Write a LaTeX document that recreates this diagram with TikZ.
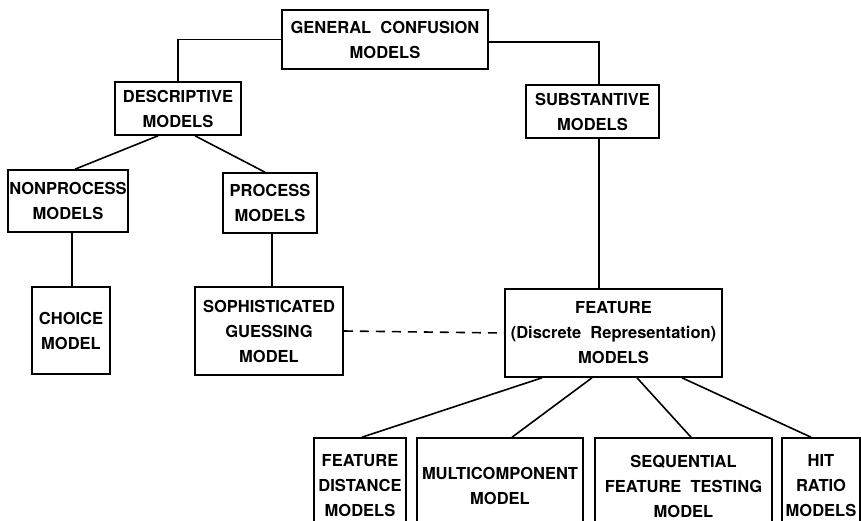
\documentclass[tikz,border=0pt]{standalone}
\usepackage{fontspec}
\setsansfont{TeX Gyre Heros}
\begin{document}
\begin{tikzpicture}[x=1pt,y=-1pt,
    modelbox/.style={draw, line width=1.6pt, inner sep=0pt, align=center,
                     font=\sffamily\bfseries\fontsize{16.5}{25}\selectfont},
    link/.style={line width=1.6pt}]
     % Page frame: pixel coordinates, y running downwards
     \useasboundingbox (0,0) rectangle (861,520);
     \clip (0,0) rectangle (861,520);

     % Top of the tree
     \node [modelbox, minimum width=206, minimum height=59] (general) at (385,39.5)
           {GENERAL\ \ CONFUSION\\MODELS};

     % Second level
     \node [modelbox, minimum width=126, minimum height=53] (descr) at (178,108.5)
           {DESCRIPTIVE\\MODELS};
     \node [modelbox, minimum width=133, minimum height=53] (subst) at (592.5,111.5)
           {SUBSTANTIVE\\MODELS};

     % Descriptive branch
     \node [modelbox, minimum width=120, minimum height=62] (nonproc) at (68,201)
           {NONPROCESS\\MODELS};
     \node [modelbox, minimum width=94, minimum height=60] (proc) at (270,203)
           {PROCESS\\MODELS};
     \node [modelbox, minimum width=78, minimum height=87] (choice) at (71,330.5)
           {CHOICE\\MODEL};
     \node [modelbox, minimum width=148, minimum height=88] (soph) at (269,331)
           {SOPHISTICATED\\GUESSING\\MODEL};

     % Substantive branch
     \node [modelbox, minimum width=217, minimum height=88] (feature) at (613.5,333)
           {FEATURE\\(Discrete\ \ Representation)\\MODELS};

     % Bottom row: the boxes run past the lower edge
     \node [modelbox, minimum width=92, minimum height=96] (fdist) at (360,486)
           {FEATURE\\DISTANCE\\MODELS};
     \node [modelbox, minimum width=166, minimum height=96] (multi) at (500,486)
           {MULTICOMPONENT\\MODEL};
     \node [modelbox, minimum width=177, minimum height=96] (seqtest) at (683.5,486)
           {SEQUENTIAL\\FEATURE\ \ TESTING\\MODEL};
     \node [modelbox, minimum width=78, minimum height=96] (hitratio) at (821,486)
           {HIT\\RATIO\\MODELS};

     % Connectors
     \coordinate (sjoin) at (599,42);
     \draw [link] (general.west) -| (descr.north);
     \draw [link] (general.east |- sjoin) -- (sjoin) -- (sjoin |- subst.north);
     \draw [link] (sjoin |- subst.south) -- (sjoin |- feature.north);

     \draw [link] ([xshift=-20pt]descr.south) -- ([xshift=7pt]nonproc.north);
     \draw [link] ([xshift=17pt]descr.south) -- ([xshift=-5pt]proc.north);
     \draw [link] ([xshift=4pt]nonproc.south) -- ([xshift=1pt]choice.north);
     \draw [link] ([xshift=2pt]proc.south) -- ([xshift=3pt]soph.north);

     % The dashed link between the two families
     \draw [link, dashed, dash pattern=on 9pt off 7pt] (soph.east) -- (feature.west);

     % Fan out below the feature models
     \draw [link] ([xshift=-71.5pt]feature.south) -- ([xshift=2pt]fdist.north);
     \draw [link] ([xshift=-21.5pt]feature.south) -- ([xshift=12pt]multi.north);
     \draw [link] ([xshift=23.5pt]feature.south) -- ([xshift=7.5pt]seqtest.north);
     \draw [link] ([xshift=68.5pt]feature.south) -- ([xshift=-10pt]hitratio.north);
\end{tikzpicture}
\end{document}
